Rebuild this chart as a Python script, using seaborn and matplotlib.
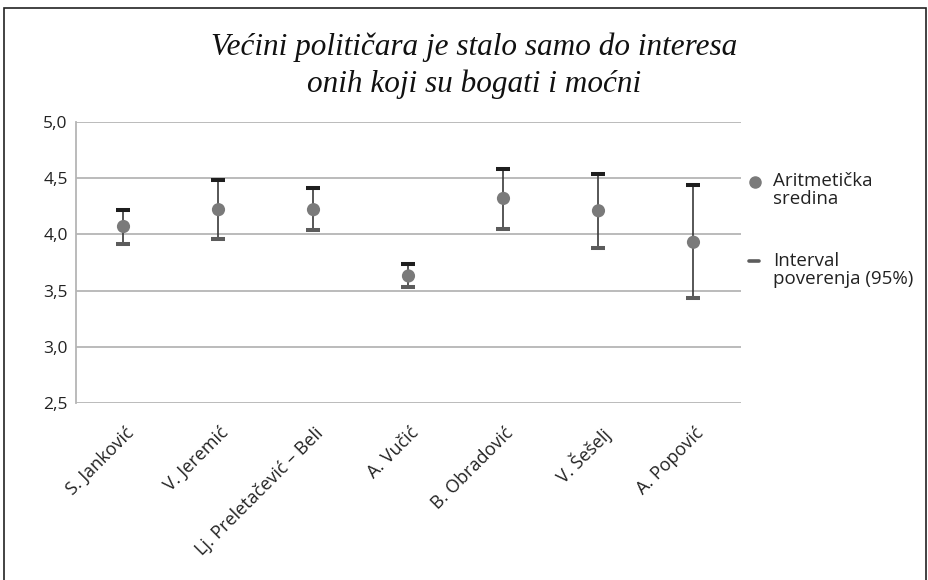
import matplotlib
matplotlib.use("Agg")
import matplotlib.pyplot as plt
from matplotlib.patches import Rectangle
from matplotlib.lines import Line2D
import matplotlib.transforms as mtransforms
import seaborn as sns
import pandas as pd

categories = ["S. Janković", "V. Jeremić", "Lj. Preletačević – Beli", "A. Vučić",
              "B. Obradović", "V. Šešelj", "A. Popović"]
means = [4.07, 4.22, 4.22, 3.63, 4.32, 4.21, 3.93]
upper = [4.22, 4.48, 4.41, 3.74, 4.585, 4.535, 4.44]
lower = [3.915, 3.96, 4.035, 3.53, 4.05, 3.88, 3.43]
yticks = [2.5, 3.0, 3.5, 4.0, 4.5, 5.0]
ytick_labels = ["2,5", "3,0", "3,5", "4,0", "4,5", "5,0"]
title_lines = ["Većini političara je stalo samo do interesa", "onih koji su bogati i moćni"]
legend_labels = ["Aritmetička\nsredina", "Interval\npoverenja (95%)"]

df = pd.DataFrame({"name": categories, "mean": means, "upper": upper, "lower": lower})

sns.set_theme(style="white")
plt.rcParams["font.family"] = ["Open Sans", "DejaVu Sans"]

fig = plt.figure(figsize=(9.29, 5.8), dpi=100)
ax = fig.add_axes([0.0818, 0.3052, 0.7158, 0.4845])

x = list(range(len(categories)))
ax.vlines(x, df["lower"], df["upper"], color="#3a3a3a", lw=1.2, zorder=2)
ax.scatter(x, df["upper"], marker="_", s=100, linewidths=2.9, color="#1e1e1e", zorder=3)
ax.scatter(x, df["lower"], marker="_", s=100, linewidths=2.9, color="#5c5c5c", zorder=3)
sns.scatterplot(data=df, x="name", y="mean", ax=ax, s=90, color="#7a7a7a",
                edgecolor="none", zorder=4, legend=False)

ax.set_xlim(-0.5, len(categories) - 0.5)
ax.set_ylim(2.5, 5.0)
ax.set_yticks(yticks)
ax.set_yticklabels(ytick_labels, fontsize=12.5, color="#222222")
ax.set_xticks(x)
ax.set_xticklabels(categories, rotation=45, ha="right", rotation_mode="anchor",
                   fontsize=13, color="#222222")
ax.tick_params(axis="y", length=0, pad=6)
ax.tick_params(axis="x", length=0, pad=15)
offset = mtransforms.ScaledTranslation(1 / 100, 0, fig.dpi_scale_trans)
for lab in ax.get_xticklabels():
    lab.set_transform(lab.get_transform() + offset)
ax.set_xlabel("")
ax.set_ylabel("")
for yt in yticks:
    ax.axhline(yt, color="#b5b5b5", lw=1.3, zorder=1)
for s in ["top", "right", "bottom"]:
    ax.spines[s].set_visible(False)
ax.spines["left"].set_color("#b5b5b5")
ax.spines["left"].set_linewidth(1.3)

for line, yb in zip(title_lines, [55, 92]):
    fig.text(0.5 + 10 / 929, 1 - yb / 580, line, ha="center", va="baseline", fontsize=22.5,
             style="italic", family=["Liberation Serif", "DejaVu Serif"], color="#111111")

# legend
fig.lines.append(Line2D([755 / 929], [1 - 182 / 580], marker="o", markersize=8,
                        color="#7a7a7a", linestyle="none", transform=fig.transFigure))
fig.lines.append(Line2D([749 / 929, 759 / 929], [1 - 261 / 580] * 2, lw=2.6,
                        color="#5c5c5c", transform=fig.transFigure))
fig.text(773 / 929, 1 - 172 / 580, legend_labels[0], ha="left", va="top",
         fontsize=13.5, color="#222222", linespacing=1.0)
fig.text(773 / 929, 1 - 252 / 580, legend_labels[1], ha="left", va="top",
         fontsize=13.5, color="#222222", linespacing=1.0)

fig.patches.append(Rectangle((4 / 929, -0.05), 922 / 929, 1.05 - 8 / 580, fill=False,
                             edgecolor="#222222", lw=1.2, transform=fig.transFigure))

fig.savefig("out.png", dpi=100)
